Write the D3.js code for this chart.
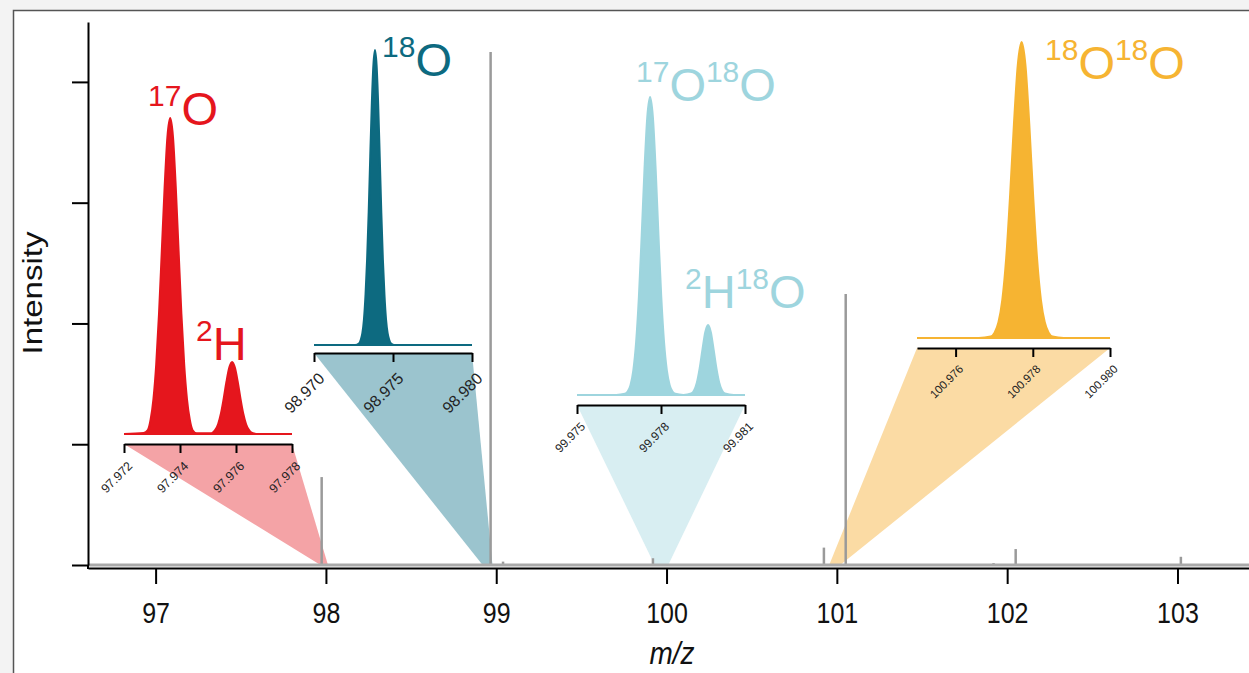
<!DOCTYPE html>
<html lang="en">
<head>
<meta charset="UTF-8" />
<title>m/z spectrum</title>
<script src="https://cdn.jsdelivr.net/npm/d3@7"></script>
<style>
  body { margin: 0; background: #f3f3f3; }
  svg { display: block; font-family: "Liberation Sans", Arial, sans-serif; }
</style>
</head>
<body>
<script>
// main spectrum (gray sticks)
const mainTicks = [97, 98, 99, 100, 101, 102, 103];
const yTicks = [0, 25, 50, 75, 100];
const stickMz = [97.975, 98.967, 99.04, 99.92, 100.924, 101.052, 101.92, 102.05, 103.02];
const stickInt = [18.2, 106.2, 0.7, 1.4, 3.6, 56.1, 0.4, 3.3, 1.7];

// inset 1 : 17O / 2H
const ins1Domain = [97.972, 97.978];
const ins1Ticks = [97.972, 97.974, 97.976, 97.978];
const ins1Mz = [97.9720, 97.9727, 97.97285, 97.97295, 97.97305, 97.97315, 97.97325, 97.97335, 97.97345, 97.97355,
  97.97365, 97.97375, 97.97385, 97.97395, 97.97405, 97.97415, 97.97425, 97.97435, 97.97445, 97.9746, 97.9751,
  97.97516, 97.97526, 97.97536, 97.97546, 97.97556, 97.97566, 97.97576, 97.97586, 97.97596, 97.97606,
  97.97616, 97.97626, 97.97636, 97.97646, 97.97656, 97.9768, 97.9780];
const ins1Int = [0, 0.3, 1.2, 4.5, 11, 22, 38, 58, 78, 94,
  100, 94, 78, 58, 38, 22, 11, 4.5, 1.2, 0.2, 0.2,
  0.4, 1.3, 3.1, 6.4, 11.2, 16.6, 21, 22.8, 21, 16.6,
  11.2, 6.4, 3.1, 1.3, 0.4, 0, 0];
const ins1Base = [97.968, 98.012];

// inset 2 : 18O
const ins2Domain = [98.970, 98.980];
const ins2Ticks = [98.970, 98.975, 98.980];
const ins2Mz = [98.9700, 98.9726, 98.97286, 98.97296, 98.97306, 98.97316, 98.97326, 98.97336, 98.97346, 98.97356,
  98.97366, 98.97376, 98.97386, 98.97396, 98.97406, 98.97416, 98.97426, 98.97436, 98.97446, 98.97456,
  98.97466, 98.97476, 98.97486, 98.9751, 98.9800];
const ins2Int = [0, 0, 0.6, 1.8, 4, 8.6, 17, 29, 45, 64,
  82, 95, 100, 95, 82, 64, 45, 29, 17, 8.6,
  4, 1.8, 0.6, 0, 0];
const ins2Base = [98.92, 98.978];

// inset 3 : 17O18O / 2H18O
const ins3Domain = [99.975, 99.981];
const ins3Ticks = [99.975, 99.978, 99.981];
const ins3Mz = [99.9750, 99.9764, 99.97671, 99.97681, 99.97691, 99.97701, 99.97711, 99.97721, 99.97731, 99.97741,
  99.97751, 99.97761, 99.97771, 99.97781, 99.97791, 99.97801, 99.97811, 99.97821, 99.97831, 99.97841,
  99.97851, 99.9788, 99.97908, 99.97918, 99.97928, 99.97938, 99.97948, 99.97958, 99.97968, 99.97978,
  99.97988, 99.97998, 99.98008, 99.98018, 99.98028, 99.9806, 99.9810];
const ins3Int = [0, 0, 0.4, 1.2, 3.3, 8.2, 17.6, 32.9, 53.5, 75.7,
  93.3, 100, 93.3, 75.7, 53.5, 32.9, 17.6, 8.2, 3.3, 1.2,
  0.4, 0, 0.5, 1.5, 4.1, 8.9, 15.2, 21.1, 23.5, 21.1,
  15.2, 8.9, 4.1, 1.5, 0.5, 0, 0];
const ins3Base = [99.93, 100.01];

// inset 4 : 18O18O
const ins4Domain = [100.975, 100.980];
const ins4Ticks = [100.976, 100.978, 100.980];
const ins4Mz = [100.9750, 100.9766, 100.97691, 100.97701, 100.97711, 100.97721, 100.97731, 100.97741, 100.97751,
  100.97761, 100.97771, 100.97781, 100.97791, 100.97801, 100.97811, 100.97821, 100.97831, 100.97841,
  100.97851, 100.9788, 100.9800];
const ins4Int = [0, 0, 0.5, 1.8, 5.3, 12.9, 26.9, 47.8, 72,
  92.1, 100, 92.1, 72, 47.8, 26.9, 12.9, 5.3, 1.8,
  0.5, 0, 0];
const ins4Base = [100.955, 101.02];

// labels : [text, superscript?]
const lab17O = [["17", true], ["O", false]];
const lab2H = [["2", true], ["H", false]];
const lab18O = [["18", true], ["O", false]];
const lab17O18O = [["17", true], ["O", false], ["18", true], ["O", false]];
const lab2H18O = [["2", true], ["H", false], ["18", true], ["O", false]];
const lab18O18O = [["18", true], ["O", false], ["18", true], ["O", false]];

const W = 1249, H = 673;
const svg = d3.select("body").append("svg").attr("width", W).attr("height", H);

// frame
svg.append("rect").attr("x", 13.5).attr("y", 10.5).attr("width", W).attr("height", H)
  .attr("fill", "#fff").attr("stroke", "#555").attr("stroke-width", 1.5);

const x = d3.scaleLinear().domain([96.603, 103.42]).range([88, W]);
const y = d3.scaleLinear().domain([0, 112.4]).range([565, 22]);

const insets = [
  { domain: ins1Domain, ticks: ins1Ticks, mz: ins1Mz, int: ins1Int, base: ins1Base, r: [124, 292],
    axisY: 444, baseY: 434, topY: 118, fs: 12.5, color: "#e5161d", shade: "#f4a3a6", fmt: ".3f",
    labels: [{ parts: lab17O, x: 148, y: 125 }, { parts: lab2H, x: 196, y: 360 }] },
  { domain: ins2Domain, ticks: ins2Ticks, mz: ins2Mz, int: ins2Int, base: ins2Base, r: [314, 472],
    axisY: 353, baseY: 345, topY: 50, fs: 16, color: "#0d6a80", shade: "#9bc4ce", fmt: ".3f",
    labels: [{ parts: lab18O, x: 382, y: 76 }] },
  { domain: ins3Domain, ticks: ins3Ticks, mz: ins3Mz, int: ins3Int, base: ins3Base, r: [577, 745],
    axisY: 405, baseY: 395, topY: 97, fs: 12, color: "#9ed5de", shade: "#d8eef2", fmt: ".3f",
    labels: [{ parts: lab17O18O, x: 636, y: 101 }, { parts: lab2H18O, x: 685, y: 308 }] },
  { domain: ins4Domain, ticks: ins4Ticks, mz: ins4Mz, int: ins4Int, base: ins4Base, r: [917, 1110],
    axisY: 348, baseY: 338, topY: 42, fs: 11.5, color: "#f6b432", shade: "#fbdba4", fmt: ".3f",
    labels: [{ parts: lab18O18O, x: 1045, y: 79 }] }
];

// shaded zoom wedges, behind everything
insets.forEach(ins => {
  const xi = d3.scaleLinear().domain(ins.domain).range(ins.r);
  ins.xi = xi;
  ins.yi = d3.scaleLinear().domain([0, 100]).range([ins.baseY, ins.topY]);
  const pts = [[xi(ins.domain[0]), ins.axisY], [xi(ins.domain[1]), ins.axisY],
    [x(ins.base[1]), y(0)], [x(ins.base[0]), y(0)]];
  svg.append("polygon").attr("points", pts.map(p => p.join(",")).join(" "))
    .attr("fill", ins.shade);
});

// sticks
svg.append("g").selectAll("line").data(stickMz).enter().append("line")
  .attr("x1", d => x(d)).attr("x2", d => x(d))
  .attr("y1", y(0)).attr("y2", (d, i) => y(stickInt[i]))
  .attr("stroke", "#9a9a9a").attr("stroke-width", 2.5);

svg.append("line").attr("x1", 88).attr("x2", W).attr("y1", y(0)).attr("y2", y(0))
  .attr("stroke", "#a9a9a9").attr("stroke-width", 3);

// main axes
const gy = svg.append("g").attr("transform", "translate(88,0)")
  .call(d3.axisLeft(y).tickValues(yTicks).tickSize(16).tickSizeOuter(0).tickFormat(""));
svg.append("line").attr("x1", 88).attr("x2", 88).attr("y1", y(0)).attr("y2", 569)
  .attr("stroke", "#000").attr("stroke-width", 2);

const gx = svg.append("g").attr("transform", "translate(0,568)")
  .call(d3.axisBottom(x).tickValues(mainTicks).tickSize(16).tickSizeOuter(0).tickFormat(d3.format("d")));
// labels look a bit tall in the original
gx.selectAll("text").attr("y", 0).attr("dy", 0)
  .attr("transform", "translate(0,55) scale(1,1.2)")
  .style("font-size", "25px").attr("fill", "#111");

[gy, gx].forEach(g => {
  g.select(".domain").attr("stroke", "#000").attr("stroke-width", 2);
  g.selectAll(".tick line").attr("stroke", "#000").attr("stroke-width", 2);
});

svg.append("text").attr("transform", "translate(42,293) rotate(-90) scale(1.18,1)")
  .attr("text-anchor", "middle").style("font-size", "28px").attr("fill", "#111").text("Intensity");
svg.append("text").attr("transform", "translate(672,664) scale(1,1.1)").attr("text-anchor", "middle")
  .style("font-size", "28px").style("font-style", "italic").attr("fill", "#111").text("m/z");

// insets
insets.forEach(ins => {
  const area = d3.area()
    .x(d => ins.xi(d))
    .y0(ins.baseY)
    .y1((d, i) => ins.yi(ins.int[i]))
    .curve(d3.curveMonotoneX);
  svg.append("path").datum(ins.mz).attr("d", area)
    .attr("fill", ins.color).attr("stroke", ins.color).attr("stroke-width", 2);

  const g = svg.append("g").attr("transform", `translate(0,${ins.axisY})`)
    .call(d3.axisBottom(ins.xi).tickValues(ins.ticks).tickSize(9).tickSizeOuter(0).tickFormat(d3.format(ins.fmt)));
  g.select(".domain").attr("stroke", "#000").attr("stroke-width", 2);
  g.selectAll(".tick line").attr("stroke", "#000").attr("stroke-width", 2);
  g.selectAll(".tick text")
    .attr("x", 0).attr("y", 0).attr("dy", "0.35em")
    .attr("transform", `translate(${ins.fs * 0.45},${9 + ins.fs * 0.85}) rotate(-45)`)
    .style("text-anchor", "end").style("font-size", ins.fs + "px").attr("fill", "#222");

  ins.labels.forEach(lb => {
    const t = svg.append("text").attr("x", lb.x).attr("y", lb.y).attr("fill", ins.color);
    lb.parts.forEach(([s, sup], k) => {
      const prevSup = k > 0 && lb.parts[k - 1][1];
      t.append("tspan").text(s)
        .style("font-size", sup ? "30px" : "47px")
        .attr("dy", sup ? -19 : (prevSup ? 19 : 0));
    });
  });
});
</script>
</body>
</html>
